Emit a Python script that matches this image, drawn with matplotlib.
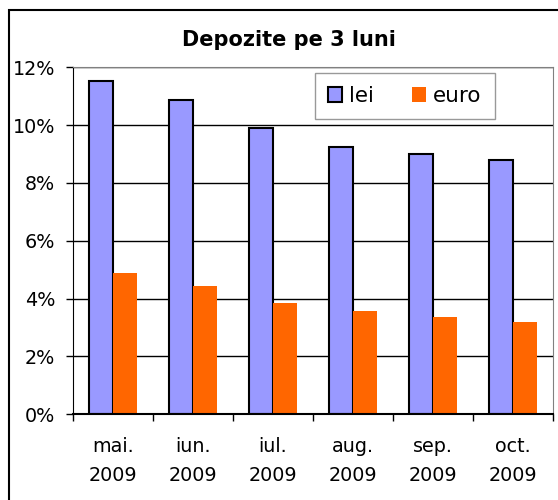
import numpy as np
import matplotlib.pyplot as plt
from matplotlib.patches import Rectangle
from matplotlib.ticker import PercentFormatter

months = ['mai.\n2009', 'iun.\n2009', 'iul.\n2009', 'aug.\n2009', 'sep.\n2009', 'oct.\n2009']
lei = [11.53, 10.86, 9.9, 9.25, 9.0, 8.8]
euro = [4.88, 4.42, 3.84, 3.57, 3.37, 3.18]

W, H = 558, 500
fig = plt.figure(figsize=(W / 100, H / 100), dpi=100)
ax = fig.add_axes([73 / W, 1 - 414.3 / H, 480 / W, (414.3 - 67.3) / H])

x = np.arange(len(months))
bw = 0.295
ax.bar(x - bw / 2, lei, bw, color='#9999FF', edgecolor='black', linewidth=1.5, label='lei', zorder=3)
ax.bar(x + bw / 2, euro, bw, color='#FF6600', edgecolor='none', label='euro', zorder=3)

ax.set_xlim(-0.5, len(months) - 0.5)
ax.set_ylim(0, 12)
ax.set_yticks(np.arange(0, 13, 2))
ax.yaxis.set_major_formatter(PercentFormatter(decimals=0))
ax.yaxis.grid(True, color='black', linewidth=1, zorder=0)

# category ticks between groups, labels centered
ax.set_xticks(np.arange(-0.5, len(months), 1))
ax.set_xticklabels([])
ax.set_xticks(x, minor=True)
ax.set_xticklabels(months, minor=True, fontsize=13.8, linespacing=1.7)
ax.tick_params(axis='x', which='minor', length=0, pad=16)
ax.tick_params(axis='x', which='major', length=5, width=1, direction='out')
ax.tick_params(axis='y', length=5, width=1, labelsize=13.8, pad=8)

for s in ['top', 'right']:
    ax.spines[s].set_color('#808080')
ax.spines['left'].set_color('black')
ax.spines['bottom'].set_color('black')
ax.spines['bottom'].set_linewidth(1.5)
ax.spines['bottom'].set_zorder(4)

fig.text(289 / W, 1 - 40 / H, 'Depozite pe 3 luni', ha='center', va='center',
         fontsize=15, fontweight='bold')

leg = ax.legend(loc='upper left', bbox_to_anchor=((315 - 73) / 480, 1 - (72.7 - 67.3) / 347),
                ncol=2, fontsize=15.5, frameon=True, fancybox=False, borderaxespad=0,
                handlelength=0.65, handleheight=0.65, handletextpad=0.3, columnspacing=1.8,
                borderpad=0.62)
leg.get_frame().set_edgecolor('#808080')
leg.get_frame().set_linewidth(1)

# outer chart border
fig.add_artist(Rectangle((8.5 / W, -0.1), 1.2, 1 - 9.5 / H + 0.1, transform=fig.transFigure,
                         fill=False, edgecolor='black', linewidth=1.5))

fig.savefig('out.png', dpi=100)
